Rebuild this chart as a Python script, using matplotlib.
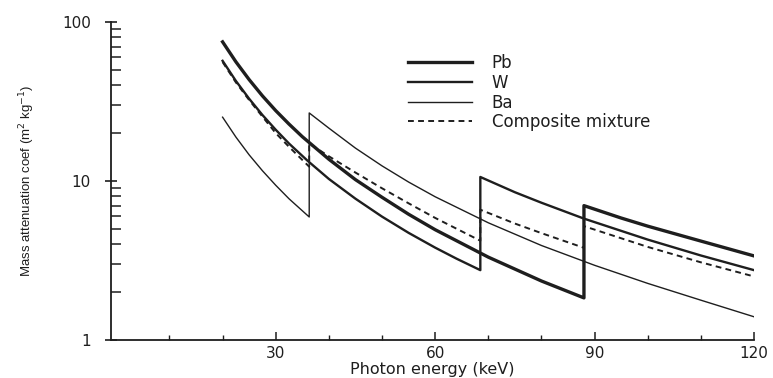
import matplotlib
matplotlib.use("Agg")
import matplotlib.pyplot as plt
from matplotlib.ticker import FixedLocator, LogLocator, NullFormatter, FixedFormatter

# ---- data ----
pb_energy = [20, 22.5, 25, 27.5, 30, 32.5, 35, 40, 45, 50, 55, 60, 70, 80, 88,
             88, 95, 100, 110, 120]
pb_mu = [75, 56.2, 43.4, 34.3, 27.7, 22.8, 19.0, 13.7, 10.2, 7.9, 6.18, 4.94, 3.32, 2.35, 1.84,
         7.0, 5.85, 5.2, 4.19, 3.38]

w_energy = [20, 22.5, 25, 27.5, 30, 32.5, 36, 40, 45, 50, 55, 60, 64, 68.5,
            68.5, 75, 80, 88, 100, 110, 120]
w_mu = [57, 42.6, 32.9, 26.0, 21.0, 17.2, 13.4, 10.3, 7.74, 5.97, 4.72, 3.81, 3.25, 2.75,
        10.6, 8.5, 7.3, 5.8, 4.28, 3.4, 2.75]

ba_energy = [20, 22.5, 25, 27.5, 30, 32.5, 36.3,
             36.3, 40, 45, 50, 55, 60, 70, 80, 90, 100, 110, 120]
ba_mu = [25.2, 18.9, 14.6, 11.6, 9.4, 7.73, 5.94,
         26.8, 21.5, 16.1, 12.45, 9.85, 7.96, 5.46, 3.93, 2.95, 2.27, 1.78, 1.40]

comp_energy = [20, 22.5, 25, 27.5, 30, 32.5, 36.3,
               36.3, 40, 45, 50, 55, 60, 68.5,
               68.5, 75, 80, 88,
               88, 100, 110, 120]
comp_mu = [56, 41.7, 32.3, 25.4, 20, 16.4, 12.3,
           17.2, 14.3, 11.3, 9.0, 7.24, 5.86, 4.21,
           6.6, 5.4, 4.7, 3.8,
           5.2, 3.85, 3.08, 2.51]

series_labels = ["Pb", "W", "Ba", "Composite mixture"]
x_tick_values = [30, 60, 90, 120]
y_tick_values = [1, 10, 100]
y_tick_labels = ["1", "10", "100"]

ink = "#1e1e1e"

fig = plt.figure(figsize=(7.73, 3.78), dpi=100)
ax = fig.add_axes([111 / 773, 1 - 340 / 378, (754 - 111) / 773, (340 - 22) / 378])

ax.plot(ba_energy, ba_mu, color=ink, lw=1.0, label=series_labels[2], zorder=2)
ax.plot(w_energy, w_mu, color=ink, lw=1.7, label=series_labels[1], zorder=3)
ax.plot(pb_energy, pb_mu, color=ink, lw=2.4, label=series_labels[0], zorder=4)
ax.plot(comp_energy, comp_mu, color=ink, lw=1.4, dashes=(3, 2.2),
        label=series_labels[3], zorder=5)

ax.set_yscale("log")
ax.set_xlim(-1, 120)
ax.set_ylim(1, 100)

for s in ("top", "right"):
    ax.spines[s].set_visible(False)
for s in ("left", "bottom"):
    ax.spines[s].set_linewidth(1.3)
    ax.spines[s].set_color(ink)

ax.yaxis.set_major_locator(FixedLocator(y_tick_values))
ax.yaxis.set_major_formatter(FixedFormatter(y_tick_labels))
ax.yaxis.set_minor_locator(LogLocator(base=10, subs=range(2, 10)))
ax.yaxis.set_minor_formatter(NullFormatter())
ax.tick_params(axis="y", which="major", direction="inout", length=9, width=1.2,
               colors=ink, labelsize=11, pad=10)
ax.tick_params(axis="y", which="minor", direction="in", length=7, width=1.1, colors=ink)

ax.xaxis.set_major_locator(FixedLocator(x_tick_values))
ax.xaxis.set_minor_locator(FixedLocator([10, 20, 40, 50, 70, 80, 100, 110]))
ax.tick_params(axis="x", which="major", direction="in", length=6, width=1.1,
               colors=ink, labelsize=11, pad=4)
ax.tick_params(axis="x", which="minor", direction="in", length=3.5, width=1.0, colors=ink)

ax.set_xlabel("Photon energy (keV)", fontsize=11.5, color=ink, labelpad=1)
ax.set_ylabel("Mass attenuation coef (m$^2$ kg$^{-1}$)", fontsize=9.5, color=ink,
              family=["Liberation Sans", "DejaVu Sans"], labelpad=18)

handles, labels = ax.get_legend_handles_labels()
order = [labels.index(l) for l in series_labels]
leg = ax.legend([handles[i] for i in order], [labels[i] for i in order],
                loc="upper left", bbox_to_anchor=(400 / 773, 1 - 46 / 378),
                bbox_transform=fig.transFigure, frameon=False, fontsize=12,
                handlelength=3.8, handletextpad=1.2, labelspacing=0.1,
                borderpad=0)
for t in leg.get_texts():
    t.set_color(ink)

fig.savefig("out.png", dpi=100)
